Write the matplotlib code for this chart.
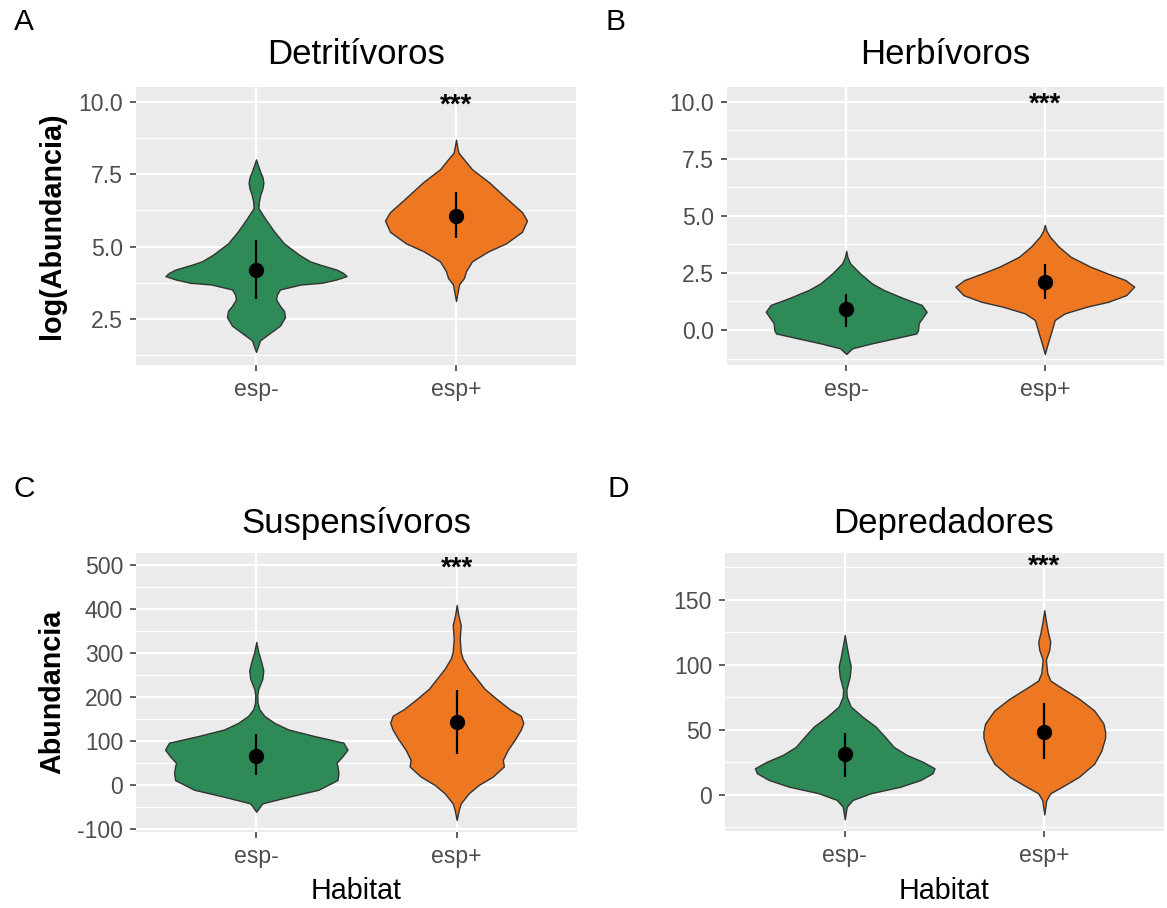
import matplotlib
matplotlib.use("Agg")
import matplotlib.pyplot as plt
import numpy as np

plt.rcParams['font.family'] = ['Liberation Sans', 'DejaVu Sans']

# ---------------------------------------------------------------------------
# Data
# ---------------------------------------------------------------------------
groups = ["esp-", "esp+"]
fill_colors = ["#2E8B57", "#EE7722"]
outline_color = "#333333"

# Detritívoros: violin outline (value, half-width) and mean +/- sd
det_minus_y = [1.36, 1.76, 1.99, 2.27, 2.56, 2.78, 2.95, 3.18, 3.35, 3.52, 3.69,
               3.75, 3.86, 3.98, 4.09, 4.20, 4.375, 4.49, 4.72, 5.11, 5.51, 5.97,
               6.33, 6.55, 6.80, 7.00, 7.20, 7.40, 7.60, 7.80, 8.01]
det_minus_w = [0.0, 0.02, 0.065, 0.12, 0.145, 0.14, 0.12, 0.10, 0.105, 0.12, 0.224,
               0.33, 0.40, 0.453, 0.435, 0.405, 0.32, 0.27, 0.215, 0.14, 0.092, 0.045,
               0.012, 0.014, 0.022, 0.032, 0.037, 0.032, 0.02, 0.01, 0.0]
det_plus_y = [3.12, 3.69, 3.92, 4.15, 4.49, 4.83, 5.11, 5.51, 5.90, 6.19, 6.65,
              7.22, 7.67, 8.01, 8.24, 8.45, 8.69]
det_plus_w = [0.0, 0.015, 0.04, 0.05, 0.08, 0.16, 0.25, 0.33, 0.355, 0.33, 0.255,
              0.165, 0.08, 0.04, 0.012, 0.006, 0.0]
det_mean = [4.18, 6.07]
det_low = [3.18, 5.30]
det_high = [5.23, 6.90]
det_ticks = [2.5, 5.0, 7.5, 10.0]
det_star = 10.0

# Herbívoros
her_minus_y = [-1.05, -0.80, -0.58, -0.36, -0.15, 0.0, 0.30, 0.44, 0.80, 1.10,
               1.39, 1.75, 2.04, 2.48, 2.92, 3.20, 3.47]
her_minus_w = [0.0, 0.03, 0.13, 0.245, 0.353, 0.362, 0.365, 0.376, 0.405, 0.38,
               0.29, 0.19, 0.13, 0.07, 0.02, 0.006, 0.0]
her_plus_y = [-1.05, -0.58, -0.15, 0.44, 0.73, 1.02, 1.24, 1.53, 1.90, 2.19,
              2.48, 2.77, 3.21, 3.65, 4.09, 4.35, 4.60]
her_plus_w = [0.0, 0.015, 0.03, 0.05, 0.10, 0.21, 0.32, 0.41, 0.45, 0.405,
              0.315, 0.23, 0.13, 0.07, 0.025, 0.008, 0.0]
her_mean = [0.90, 2.12]
her_low = [0.12, 1.34]
her_high = [1.58, 2.88]
her_ticks = [0.0, 2.5, 5.0, 7.5, 10.0]
her_star = 10.0

# Suspensívoros
sus_minus_y = [-61, -42, -27, -11, 11, 27, 42, 50, 65, 80, 96, 111, 126, 141,
               157, 172, 187, 205, 218, 241, 260, 279, 302, 325]
sus_minus_w = [0.0, 0.03, 0.16, 0.31, 0.405, 0.41, 0.405, 0.40, 0.43, 0.455,
               0.435, 0.29, 0.16, 0.09, 0.04, 0.015, 0.006, 0.005, 0.01, 0.03,
               0.035, 0.025, 0.01, 0.0]
sus_plus_y = [-80, -57, -42, -19, 0, 19, 42, 57, 80, 103, 126, 141, 157, 172,
              195, 218, 241, 264, 287, 302, 333, 363, 386, 409]
sus_plus_w = [0.0, 0.01, 0.02, 0.06, 0.11, 0.18, 0.235, 0.23, 0.255, 0.29, 0.32,
              0.332, 0.32, 0.264, 0.20, 0.14, 0.10, 0.06, 0.03, 0.02, 0.015,
              0.02, 0.008, 0.0]
sus_mean = [66, 144]
sus_low = [23, 71]
sus_high = [115, 216]
sus_ticks = [-100, 0, 100, 200, 300, 400, 500]
sus_star = 500

# Depredadores
dep_minus_y = [-18.7, -9, -3.8, 1.3, 6.4, 11.5, 16.7, 20.5, 25.6, 30.8, 37, 45,
               52.6, 60, 68, 75.6, 81, 91, 99, 106, 114, 123]
dep_minus_w = [0.0, 0.01, 0.04, 0.13, 0.28, 0.38, 0.44, 0.45, 0.39, 0.31, 0.245,
               0.20, 0.155, 0.09, 0.03, 0.01, 0.008, 0.025, 0.03, 0.02, 0.01, 0.0]
dep_plus_y = [-15, -4, 1.3, 6.4, 14, 24, 34, 44, 48.7, 55, 65, 74, 83, 88,
              93.6, 104, 111.5, 118, 124, 132, 142]
dep_plus_w = [0.0, 0.01, 0.03, 0.09, 0.174, 0.25, 0.286, 0.305, 0.305, 0.296,
              0.25, 0.174, 0.08, 0.03, 0.015, 0.008, 0.025, 0.03, 0.02, 0.01, 0.0]
dep_mean = [31.5, 48.7]
dep_low = [13.6, 27.4]
dep_high = [48, 71]
dep_ticks = [0, 50, 100, 150]
dep_star = 178

# ---------------------------------------------------------------------------
# Layout helpers (figure is 1167 x 908 px)
# ---------------------------------------------------------------------------
W, H = 1167, 908
fig = plt.figure(figsize=(W / 100, H / 100), dpi=100)
fig.patch.set_facecolor("white")


def px_axes(x0, y0, x1, y1):
    return fig.add_axes([x0 / W, 1 - y1 / H, (x1 - x0) / W, (y1 - y0) / H])


def fig_text(x, y, s, **kw):
    fig.text(x / W, 1 - y / H, s, **kw)


def draw_panel(ax, profiles, means, lows, highs, ticks, ylim, star, fmt):
    ax.set_facecolor("#EBEBEB")
    for s in ax.spines.values():
        s.set_visible(False)
    ax.set_xlim(0.4, 2.6)
    ax.set_ylim(*ylim)

    step = ticks[1] - ticks[0]
    ax.set_yticks(ticks)
    ax.set_yticklabels([fmt.format(t) for t in ticks])
    minor = np.arange(ticks[0] - step / 2, ylim[1], step)
    ax.set_yticks([m for m in minor if ylim[0] < m < ylim[1]], minor=True)
    ax.set_xticks([1, 2])
    ax.set_xticklabels(groups)

    ax.grid(True, which="major", color="white", linewidth=1.6)
    ax.grid(True, which="minor", axis="y", color="white", linewidth=0.9)
    ax.set_axisbelow(True)

    ax.tick_params(which="major", length=4.3, width=1.1, color="#333333",
                   labelcolor="#4D4D4D", labelsize=16.6, pad=5)
    ax.tick_params(which="minor", length=0)

    for i, (yy, ww) in enumerate(profiles):
        yy = np.asarray(yy, dtype=float)
        ww = np.asarray(ww, dtype=float)
        xc = i + 1
        ax.fill_betweenx(yy, xc - ww, xc + ww, facecolor=fill_colors[i],
                         edgecolor=outline_color, linewidth=1.0, zorder=2)

    xs = np.arange(1, len(groups) + 1)
    ax.vlines(xs, lows, highs, color="black", linewidth=1.6, zorder=3)
    ax.plot(xs, means, "o", color="black", markersize=10, zorder=4)

    # significance marker above the esp+ group
    ax.annotate("***", xy=(2, star), xytext=(0, -7.5), textcoords="offset points",
                ha="center", va="baseline", fontsize=20, fontweight="bold",
                color="black", zorder=5)


# Panel rectangles in pixels
axA = px_axes(136, 87, 576, 365)
axB = px_axes(727, 87, 1164, 365)
axC = px_axes(136, 553, 577, 832)
axD = px_axes(725, 553, 1164, 831)

draw_panel(axA, [(det_minus_y, det_minus_w), (det_plus_y, det_plus_w)],
           det_mean, det_low, det_high, det_ticks, (0.91, 10.51), det_star, "{:.1f}")
draw_panel(axB, [(her_minus_y, her_minus_w), (her_plus_y, her_plus_w)],
           her_mean, her_low, her_high, her_ticks, (-1.53, 10.64), her_star, "{:.1f}")
draw_panel(axC, [(sus_minus_y, sus_minus_w), (sus_plus_y, sus_plus_w)],
           sus_mean, sus_low, sus_high, sus_ticks, (-107, 527), sus_star, "{:.0f}")
draw_panel(axD, [(dep_minus_y, dep_minus_w), (dep_plus_y, dep_plus_w)],
           dep_mean, dep_low, dep_high, dep_ticks, (-27.7, 186), dep_star, "{:.0f}")

# Titles
title_kw = dict(ha="center", va="center", fontsize=25, color="black")
fig_text(356, 55, "Detritívoros", **title_kw)
fig_text(945, 55, "Herbívoros", **title_kw)
fig_text(356, 523, "Suspensívoros", **title_kw)
fig_text(944, 523, "Depredadores", **title_kw)

# Panel letters
tag_kw = dict(ha="center", va="center", fontsize=21.5, color="black")
fig_text(24, 22, "A", **tag_kw)
fig_text(616, 22, "B", **tag_kw)
fig_text(24, 489, "C", **tag_kw)
fig_text(618, 489, "D", **tag_kw)

# Axis titles
fig_text(52, 226, "log(Abundancia)", rotation=90, ha="center", va="center",
         fontsize=20.7, fontweight="bold")
fig_text(52, 692, "Abundancia", rotation=90, ha="center", va="center",
         fontsize=20.7, fontweight="bold")
fig_text(356, 891, "Habitat", ha="center", va="center", fontsize=20.7)
fig_text(944, 891, "Habitat", ha="center", va="center", fontsize=20.7)

fig.savefig("out.png", dpi=100, facecolor="white")
